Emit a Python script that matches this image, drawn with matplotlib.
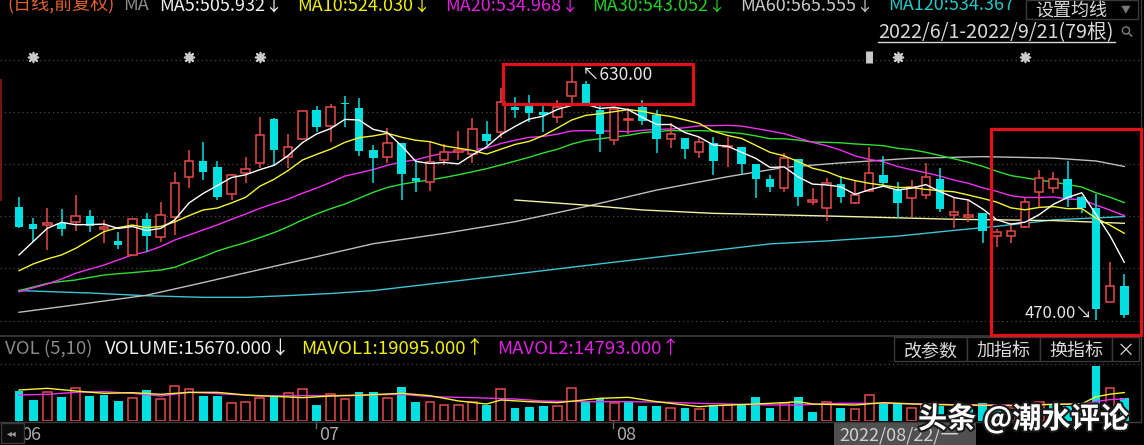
import numpy as np
import matplotlib.pyplot as plt
import matplotlib.transforms as mtrans
import matplotlib.patheffects as pe
from matplotlib.patches import Rectangle

plt.rcParams['font.family'] = ['Noto Sans CJK SC', 'DejaVu Sans']

# ---- daily candles 2022/6/1 - 2022/9/21 (79 bars) ----
opens = [540.6, 529.8, 529.4, 530.6, 531.0, 534.8, 526.9, 519.2, 510.5, 532.7,
         521.5, 534.3, 558.8, 569.0, 565.3, 548.2, 561.3, 568.0, 595.1, 571.3,
         582.9, 600.7, 590.8, 604.9, 601.8, 575.8, 571.3, 580.0, 558.4, 555.7,
         569.6, 574.8, 573.1, 585.8, 587.3, 602.8, 604.9, 599.7, 596.6, 609.5,
         616.9, 600.7, 582.1, 594.3, 602.8, 597.6, 582.5, 583.1, 574.4, 580.0,
         577.9, 577.5, 567.1, 557.6, 552.0, 570.0, 543.7, 539.5, 554.7, 542.6,
         550.3, 560.3, 551.0, 545.8, 547.8, 557.8, 535.4, 534.3, 536.4, 522.5,
         522.3, 528.1, 549.9, 552.0, 557.8, 546.8, 539.9, 481.4, 491.4]
highs = [546.8, 533.3, 539.5, 538.9, 547.8, 538.5, 532.3, 525.0, 533.3, 536.4,
         543.7, 561.9, 575.8, 580.6, 569.0, 560.7, 571.7, 596.2, 595.5, 585.8,
         600.3, 603.2, 604.3, 609.5, 608.0, 579.0, 589.3, 580.2, 569.6, 581.0,
         579.6, 587.7, 595.6, 594.1, 614.2, 609.0, 610.1, 605.3, 607.0, 630.0,
         619.0, 603.9, 602.8, 601.8, 607.0, 600.7, 592.4, 583.5, 583.7, 584.1,
         584.1, 577.7, 567.3, 560.3, 573.8, 570.2, 552.0, 558.2, 559.7, 557.2,
         577.9, 572.1, 556.1, 557.2, 567.5, 564.4, 545.8, 545.1, 536.6, 526.5,
         530.2, 545.8, 563.4, 562.4, 569.0, 547.0, 548.2, 506.3, 498.4]
lows = [527.5, 518.8, 513.6, 522.3, 525.6, 525.0, 517.7, 514.2, 510.0, 512.1,
        518.8, 522.9, 552.0, 557.2, 544.7, 544.7, 555.1, 564.4, 565.9, 564.4,
        582.1, 587.3, 581.0, 590.4, 572.1, 555.5, 567.5, 544.7, 549.9, 550.3,
        566.5, 569.6, 567.5, 579.0, 583.1, 595.6, 593.5, 587.3, 592.4, 604.9,
        603.9, 574.8, 579.0, 585.8, 591.4, 573.8, 576.9, 570.0, 570.6, 560.3,
        565.5, 560.9, 546.2, 549.9, 549.9, 541.2, 541.6, 531.9, 543.1, 542.4,
        549.9, 552.6, 533.3, 533.9, 545.1, 537.5, 527.1, 531.2, 517.7, 515.3,
        518.2, 527.5, 539.5, 548.9, 540.6, 536.8, 470.0, 481.2, 471.5]
closes = [528.1, 526.5, 530.2, 526.9, 534.8, 528.7, 528.1, 516.7, 532.7, 522.5,
          535.2, 555.1, 569.0, 562.4, 546.8, 560.1, 563.8, 585.0, 575.8, 577.5,
          600.1, 590.4, 602.4, 604.3, 575.4, 571.1, 580.4, 560.9, 556.3, 568.2,
          574.8, 575.8, 588.7, 581.6, 605.5, 600.7, 599.1, 597.6, 602.8, 618.0,
          604.5, 585.8, 601.2, 594.9, 593.9, 582.5, 585.8, 576.3, 581.0, 569.2,
          578.5, 566.9, 557.6, 552.6, 571.1, 546.8, 544.7, 555.1, 546.8, 547.8,
          561.3, 555.5, 543.1, 553.0, 558.8, 539.1, 537.0, 535.4, 525.6, 525.0,
          525.4, 543.3, 558.6, 557.8, 546.2, 539.9, 476.7, 491.4, 473.1]
volumes = [20380, 14110, 19270, 16130, 21950, 17020, 17470, 13440, 15230, 20830,
           14780, 23520, 21500, 17020, 17020, 11870, 12540, 15680, 15900, 18590,
           21500, 10750, 17920, 14780, 19270, 19270, 15680, 23070, 12990, 12540,
           10750, 10750, 12540, 10750, 21500, 8960, 9630, 10300, 10080, 21950,
           12990, 15230, 11870, 12990, 10300, 10300, 8960, 8960, 8060, 10750,
           10750, 10750, 16350, 8510, 11800, 16350, 6270, 12540, 8960, 7840,
           17470, 11870, 11870, 8600, 10500, 10080, 8500, 8000, 11870, 9500,
           9000, 10500, 13000, 10450, 10000, 10900, 36960, 21950, 15670]

# moving-average lines as drawn on the screenshot
ma5 = [510.5, 518.8, 527.1, 530.8, 529.3, 529.4, 529.7, 527.0, 528.2, 525.7,
       527.0, 532.4, 542.9, 548.8, 553.7, 558.7, 560.4, 563.6, 566.3, 572.4,
       580.4, 585.8, 589.2, 594.9, 594.5, 588.7, 586.7, 578.4, 568.8, 567.4,
       568.1, 567.2, 572.8, 577.8, 585.3, 590.5, 595.1, 596.9, 601.1, 603.6,
       604.4, 601.7, 602.5, 600.9, 596.1, 591.7, 591.7, 586.7, 583.9, 579.0,
       578.2, 574.4, 570.6, 565.0, 565.3, 559.0, 554.6, 554.1, 552.9, 548.2,
       551.1, 553.3, 550.9, 552.1, 554.3, 549.9, 546.2, 544.7, 539.2, 532.4,
       529.7, 530.9, 535.6, 542.0, 546.3, 549.2, 535.8, 522.4, 505.9]
ma10 = [500.7, 504.9, 508.0, 510.5, 514.6, 519.8, 525.0, 527.5, 529.1, 527.5,
        528.2, 531.1, 535.0, 538.5, 539.7, 542.9, 546.4, 553.3, 557.6, 563.1,
        569.6, 573.1, 576.4, 580.6, 583.5, 584.6, 586.2, 583.8, 581.9, 581.0,
        578.4, 577.0, 575.6, 573.3, 576.3, 579.3, 581.2, 584.8, 589.5, 594.5,
        597.4, 598.4, 599.7, 601.0, 599.9, 598.0, 596.7, 594.6, 592.4, 587.5,
        584.9, 583.0, 578.7, 574.4, 572.2, 568.6, 564.5, 562.4, 558.9, 556.8,
        555.1, 553.9, 552.5, 552.5, 551.3, 550.5, 549.8, 547.8, 545.7, 543.4,
        539.8, 538.6, 540.1, 540.6, 539.3, 539.4, 533.4, 529.0, 524.0]
ma20 = [487.6, 490.0, 492.4, 495.5, 499.1, 501.7, 504.2, 507.4, 510.5, 512.5,
        515.7, 519.8, 522.9, 526.1, 529.2, 532.7, 536.0, 539.5, 542.5, 545.3,
        548.9, 552.1, 555.7, 559.6, 561.6, 563.7, 566.3, 568.5, 569.7, 572.0,
        574.0, 575.0, 576.0, 577.0, 579.9, 581.9, 583.7, 584.3, 585.7, 587.7,
        587.9, 587.7, 587.6, 587.2, 588.1, 588.7, 588.9, 589.7, 590.9, 591.0,
        591.2, 590.7, 589.2, 587.7, 586.0, 583.3, 580.6, 578.5, 575.7, 572.2,
        570.0, 568.5, 565.6, 563.5, 561.7, 559.6, 557.1, 555.1, 552.3, 550.1,
        547.4, 546.3, 546.3, 546.6, 545.3, 545.0, 541.6, 538.4, 535.0]
ma30 = [488.3, 490.5, 492.8, 494.0, 494.9, 496.5, 498.0, 498.8, 499.5, 500.3,
        501.1, 502.8, 506.3, 509.4, 513.0, 515.7, 518.2, 521.3, 524.4, 528.1,
        532.3, 536.0, 539.3, 542.2, 545.8, 549.5, 552.5, 554.5, 556.0, 557.2,
        558.7, 560.4, 562.3, 564.2, 566.5, 568.9, 571.3, 574.0, 576.3, 579.5,
        581.8, 582.8, 583.9, 585.0, 586.6, 587.3, 588.0, 587.7, 587.9, 587.6,
        586.9, 586.1, 584.6, 582.9, 582.8, 582.0, 580.8, 580.6, 580.3, 579.6,
        579.1, 578.5, 576.9, 576.0, 574.4, 572.4, 570.3, 568.2, 565.7, 562.6,
        559.9, 558.5, 557.1, 555.9, 554.3, 552.8, 549.2, 546.4, 543.1]
ma60_idx = [0, 5, 9, 13, 17, 21, 25, 30, 35, 40, 45, 50, 54, 58, 63, 68, 73, 76, 78]
ma60 = [474.8, 480.6, 485.4, 493.3, 501.4, 509.4, 517.5, 523.9, 531.2, 540.6,
        550.9, 559.2, 565.0, 567.8, 570.7, 571.7, 570.8, 569.0, 565.6]
ma120_idx = [0, 5, 9, 13, 16, 19, 22, 25, 30, 35, 40, 45, 50, 53, 57, 62, 66, 69, 73, 78]
ma120 = [488.3, 486.8, 485.1, 484.1, 484.1, 485.2, 486.5, 488.3, 493.4, 498.6,
         503.9, 509.1, 514.3, 517.4, 519.2, 522.2, 525.8, 528.3, 532.3, 534.4]
pale_idx = [35, 40, 44, 49, 52, 59, 66, 73, 78]
pale = [544.7, 541.5, 538.5, 536.4, 535.8, 534.3, 532.7, 531.9, 530.2]

mavol1_idx = [0, 2, 4, 6, 8, 10, 12, 14, 16, 18, 20, 22, 24, 27, 29, 31, 33, 34, 36, 38,
              41, 43, 45, 46, 48, 49, 52, 54, 55, 56, 59, 61, 63, 66, 70, 73, 75, 76, 77, 78]
mavol1 = [20830, 21950, 20160, 18590, 19040, 17920, 19260, 19260, 17470, 16580,
          15680, 16800, 17250, 18590, 17020, 13500, 11420, 14110, 12990, 12320,
          15230, 15900, 12990, 11870, 9630, 10300, 11420, 12320, 12990, 11420,
          10750, 12320, 11420, 10750, 10300, 11200, 11500, 16260, 18050, 19095]
mavol2_idx = [0, 2, 4, 6, 8, 10, 12, 15, 17, 20, 22, 24, 27, 29, 32, 35, 37, 40, 43, 46,
              48, 50, 53, 55, 58, 62, 66, 70, 73, 75, 76, 77, 78]
mavol2 = [17470, 17920, 19260, 19710, 18590, 16800, 19260, 17920, 16800, 17020,
          17020, 17470, 17920, 16350, 15680, 14780, 13440, 12990, 12990, 12540,
          11870, 11420, 10750, 10750, 11870, 11870, 11000, 10800, 11200, 11500,
          13020, 14410, 14793]

event_idx = [1, 12, 17, 62, 71]
month_idx = [0, 21, 42]
month_labels = ['06', '07', '08']

# ---- colours ----
CYAN = '#00e0e0'
RED = '#e84a4a'
GRIDC = '#4a4a4a'

W, H = 1144, 445
fig = plt.figure(figsize=(W / 100, H / 100), dpi=100, facecolor='black')


def fx(px):
    return px / W


def fy(py):
    return 1 - py / H


# screenshot geometry: x pixel of first bar, bar spacing, price scale
X0, DX = 19, 14.17
P_REF, Y_REF, PPP = 630.0, 63, 0.6226
xlim = (-X0 / DX, (1140 - X0) / DX)

o, h, l, c = map(np.array, (opens, highs, lows, closes))
idx = np.arange(len(c))
up = c >= o

# ================= price panel =================
ax = fig.add_axes([0, fy(335), fx(1140), (335 - 18) / H])
ax.set_facecolor('black')
ax.set_xlim(*xlim)
ax.set_ylim(P_REF - (335 - Y_REF) * PPP, P_REF + (Y_REF - 18) * PPP)
for row in [60, 112, 164, 216, 268, 321]:
    ax.axhline(P_REF - (row - Y_REF) * PPP, color=GRIDC, lw=0.9, ls=(0, (1, 2.5)), zorder=0)

ax.vlines(idx, l, h, colors=np.where(up, RED, CYAN), lw=1.1, zorder=2)
ax.bar(idx[up], np.maximum((c - o)[up], 0.3), bottom=o[up], width=0.6,
       facecolor='black', edgecolor=RED, lw=1.1, zorder=3)
ax.bar(idx[~up], np.maximum((o - c)[~up], 0.6), bottom=c[~up], width=0.6,
       color=CYAN, lw=0, zorder=3)

ax.plot(ma120_idx, ma120, color='#3cc4d4', lw=1, zorder=1)
ax.plot(ma60_idx, ma60, color='#bdbdbd', lw=1, zorder=1)
ax.plot(pale_idx, pale, color='#f2f2a8', lw=1, zorder=1)
ax.plot(idx, ma30, color='#2ee02e', lw=1, zorder=1)
ax.plot(idx, ma20, color='#f030f0', lw=1, zorder=1)
ax.plot(idx, ma10, color='#f4f430', lw=1, zorder=4)
ax.plot(idx, ma5, color='white', lw=1, zorder=4)

# event markers along the top
tr = mtrans.blended_transform_factory(ax.transData, ax.transAxes)
ev_y = (335 - 57) / (335 - 18)
ax.scatter(event_idx, [ev_y] * len(event_idx), transform=tr, marker=(8, 2, 0),
           s=50, color='#c8c8c8', lw=1.2, zorder=5, clip_on=False)
ax.scatter(event_idx, [ev_y] * len(event_idx), transform=tr, marker='s',
           s=14, color='#c8c8c8', zorder=5, clip_on=False)
ax.plot([60], [ev_y], transform=tr, marker='|', ms=9, mew=5, color='#c8c8c8', clip_on=False)

# high / low labels
ax.text(39.7, 630 - 3 * PPP, '↖630.00', color='#e6e6e6', fontsize=12.5, va='top', ha='left', zorder=6)
ax.text(75.8, 470 - 2.5 * PPP, '470.00↘', color='#e6e6e6', fontsize=12, va='bottom', ha='right', zorder=6)

for s in ax.spines.values():
    s.set_visible(False)
ax.set_xticks([])
ax.set_yticks([])

# ================= volume panel =================
VPP = 672  # volume per pixel
axv = fig.add_axes([0, fy(421), fx(1140), (421 - 337) / H])
axv.set_facecolor('black')
axv.set_xlim(*xlim)
axv.set_ylim(0, (421 - 337) * VPP)
axv.axhline((421 - 364) * VPP, color=GRIDC, lw=0.9, ls=(0, (1, 2.5)), zorder=0)

v = np.array(volumes)
vup = np.r_[c[0] >= o[0], c[1:] >= c[:-1]]
axv.bar(idx[vup], v[vup], width=0.62, facecolor='black', edgecolor=RED, lw=1.1, zorder=2)
axv.bar(idx[~vup], v[~vup], width=0.62, color=CYAN, lw=0, zorder=2)
axv.plot(mavol2_idx, mavol2, color='#f030f0', lw=1, zorder=3)
axv.plot(mavol1_idx, mavol1, color='#f4f430', lw=1, zorder=3)
for s in axv.spines.values():
    s.set_visible(False)
axv.set_xticks([])
axv.set_yticks([])

# month labels under the volume panel
trm = mtrans.blended_transform_factory(axv.transData, fig.transFigure)
for mi, lab in zip(month_idx, month_labels):
    fig.add_artist(plt.Line2D([mi - 0.05, mi - 0.05], [fy(421), fy(428)], transform=trm,
                              color='#6a6a6a', lw=1))
    fig.text(mi + 0.15, fy(440), lab, transform=trm, color='#a8a8a8', fontsize=13,
             va='baseline', ha='left')

# ================= frame lines =================
fig.add_artist(plt.Line2D([0, fx(1141)], [fy(336), fy(336)], color='#3c3c3c', lw=1.2))
fig.add_artist(plt.Line2D([0, fx(1141)], [fy(421.5), fy(421.5)], color='#3c3c3c', lw=1))
fig.add_artist(plt.Line2D([fx(1140.5), fx(1140.5)], [fy(0), fy(421)], color='#3c3c3c', lw=1))
fig.add_artist(plt.Line2D([fx(1), fx(1)], [fy(80), fy(200)], color='#7a1414', lw=1.5))

# red highlight boxes
fig.add_artist(Rectangle((fx(503), fy(104)), fx(190), 40 / H, transform=fig.transFigure,
                         fill=False, ec='#e3121a', lw=2.3, zorder=6))
fig.add_artist(Rectangle((fx(991), fy(335)), fx(150), (335 - 129) / H, transform=fig.transFigure,
                         fill=False, ec='#e3121a', lw=2.3, zorder=6))

# ================= header texts =================
hdr = [(7, '(日线,前复权)', '#e2622a'), (123, 'MA', '#8a8a8a'),
       (159, 'MA5:505.932↓', '#f0f0f0'), (297, 'MA10:524.030↓', '#f0f000'),
       (445, 'MA20:534.968↓', '#e020e0'), (592, 'MA30:543.052↓', '#20d020'),
       (740, 'MA60:565.555↓', '#c8c8c8'), (888, 'MA120:534.367', '#20c8c8')]
for x, s, col in hdr:
    fig.text(fx(x), fy(10), s, color=col, fontsize=13, va='baseline', ha='left')

fig.add_artist(Rectangle((fx(1026), fy(19)), fx(112), 19 / H, transform=fig.transFigure,
                         facecolor='black', ec='#3a3a3a', lw=1))
fig.text(fx(1035), fy(16), '设置均线', color='#d8d8d8', fontsize=13, va='baseline')
fig.text(fx(1126), fy(9), '▼', color='#7a7a7a', fontsize=7, va='center', ha='center')

fig.text(fx(878), fy(38), '2022/6/1-2022/9/21(79根)', color='#d8d8d8', fontsize=14.2, va='baseline')
fig.add_artist(plt.Line2D([fx(878), fx(1115)], [fy(41.5), fy(41.5)], color='#d8d8d8', lw=1))
fig.text(fx(1127), fy(31), '⚲', color='#8a8a8a', fontsize=11, va='center', ha='center',
         rotation=45, family='DejaVu Sans')

vhdr = [(5, 'VOL (5,10)', '#8a8a8a'), (105, 'VOLUME:15670.000↓', '#f0f0f0'),
        (301, 'MAVOL1:19095.000↑', '#f0f000'), (497, 'MAVOL2:14793.000↑', '#e020e0')]
for x, s, col in vhdr:
    fig.text(fx(x), fy(354), s, color=col, fontsize=13.4, va='baseline', ha='left')

for x0, x1, s in [(894, 967, '改参数'), (967, 1040, '加指标'), (1040, 1112, '换指标'), (1112, 1139, '×')]:
    fig.add_artist(Rectangle((fx(x0), fy(361)), fx(x1 - x0), 24 / H, transform=fig.transFigure,
                             facecolor='black', ec='#3a3a3a', lw=1))
    fig.text(fx((x0 + x1) / 2), fy(356), s, color='#d8d8d8', fontsize=13, va='baseline', ha='center')

# bottom-left scroll button and cursor date box
fig.add_artist(Rectangle((fx(1), fy(443)), fx(23), 20 / H, transform=fig.transFigure,
                         facecolor='#0c0c0c', ec='#3a3a3a', lw=1, zorder=5))
fig.text(fx(12), fy(433), '◂◂', color='#9a9a9a', fontsize=7, va='center', ha='center',
         family='DejaVu Sans', zorder=6)
fig.add_artist(Rectangle((fx(834), fy(445)), fx(142), 22 / H, transform=fig.transFigure,
                         facecolor='#505050', ec='none'))
fig.text(fx(839), fy(441), '2022/08/22/一', color='#cfcfcf', fontsize=13, va='baseline')

# watermark
fig.text(fx(918), fy(428), '头条 @潮水评论', color='white', fontsize=21, fontweight='bold',
         va='baseline', zorder=7,
         path_effects=[pe.withStroke(linewidth=3, foreground='#1a1a1a')])

fig.savefig('out.png', dpi=100, facecolor='black')
